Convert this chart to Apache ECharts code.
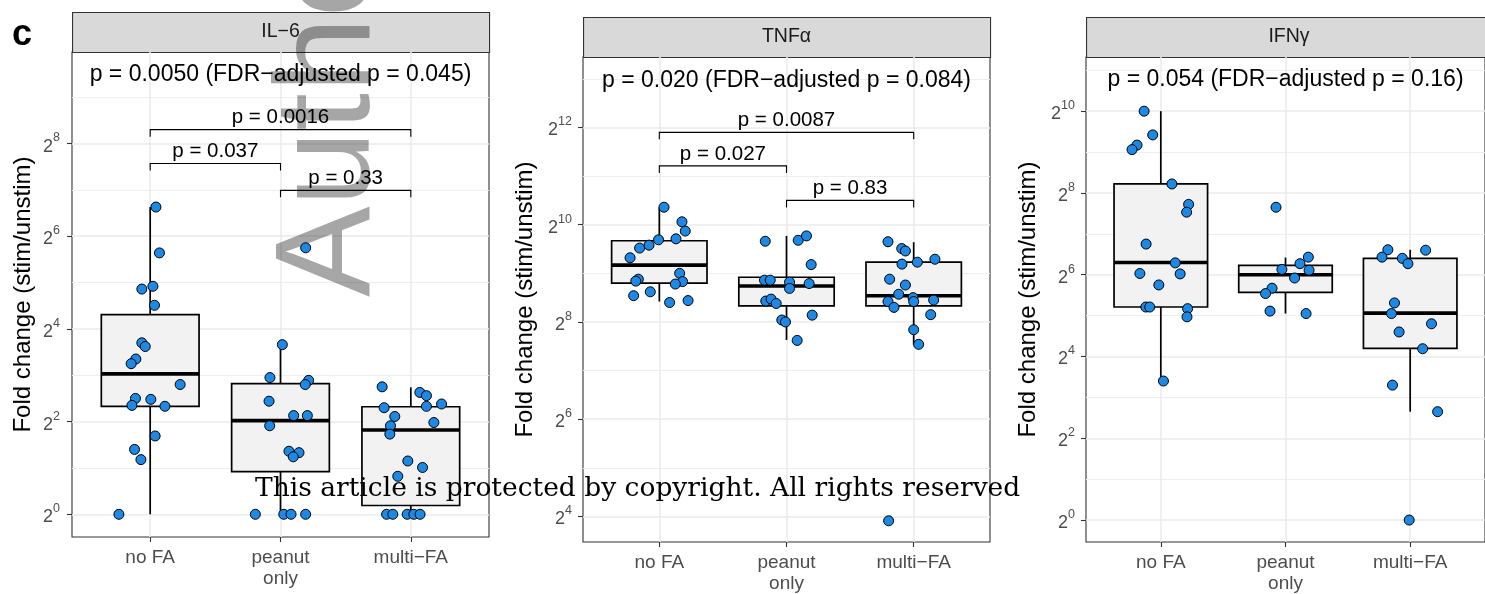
<!DOCTYPE html>
<html><head><meta charset="utf-8">
<script src="https://cdn.jsdelivr.net/npm/echarts@6/dist/echarts.min.js"></script>
<style>html,body{margin:0;padding:0;background:#fff}#c{width:1485px;height:594px}</style>
</head><body><div id="c"></div>
<script>
// ---------- data ----------
const categories = ['no FA', 'peanut\nonly', 'multi\u2212FA'];
const groupPositions = [1, 2, 3];
const panelTitles = ['IL\u22126', 'TNF\u03b1', 'IFN\u03b3'];
const overallP = [
  'p = 0.0050 (FDR\u2212adjusted p = 0.045)',
  'p = 0.020 (FDR\u2212adjusted p = 0.084)',
  'p = 0.054 (FDR\u2212adjusted p = 0.16)'
];
const overallPY = [9.49, 12.97, 10.76];
const yTicks = [[0, 2, 4, 6, 8], [4, 6, 8, 10, 12], [0, 2, 4, 6, 8, 10]];
const yMinor = [[1, 3, 5, 7, 9], [5, 7, 9, 11, 13], [1, 3, 5, 7, 9, 11]];
const yRange = [[-0.49, 9.975], [3.474, 13.45], [-0.537, 11.325]];

// points: [jittered group position, log2 fold change]
const il6Points = [
  [1.044,6.63],[1.071,5.64],[0.936,4.86],[1.021,4.92],[1.033,4.51],[0.936,3.70],[0.962,3.62],[0.890,3.35],[0.854,3.25],
  [1.230,2.80],[0.887,2.50],[1.005,2.48],[0.860,2.35],[1.113,2.33],[1.038,1.69],[0.880,1.40],[0.929,1.18],[0.760,0],
  [2.193,5.75],[2.014,3.66],[1.919,2.95],[2.216,2.89],[2.190,2.80],[1.912,2.44],[2.101,2.13],[2.206,2.13],[1.917,1.91],
  [2.065,1.36],[2.142,1.33],[2.098,1.24],[1.807,0],[2.025,0],[2.081,0],[2.193,0],
  [2.780,2.75],[3.069,2.63],[3.120,2.56],[3.236,2.38],[2.795,2.30],[3.120,2.33],[2.877,2.11],[2.844,1.91],[3.177,1.98],
  [2.839,1.73],[2.977,1.15],[3.090,1.01],[2.900,0.82],[2.814,0],[2.862,0],[2.972,0],[3.023,0],[3.071,0]
];
const tnfPoints = [
  [1.037,10.36],[1.178,10.06],[1.204,9.87],[0.994,9.69],[1.131,9.71],[0.919,9.58],[0.845,9.52],[0.770,9.32],[1.160,9.00],
  [0.835,8.88],[0.815,8.84],[1.183,8.83],[1.126,8.78],[0.798,8.54],[0.929,8.62],[1.081,8.40],[1.226,8.44],
  [1.833,9.66],[2.092,9.68],[2.157,9.77],[2.194,9.18],[1.827,8.86],[1.872,8.86],[2.024,8.82],[2.178,8.79],[2.024,8.69],
  [1.837,8.43],[1.879,8.47],[1.919,8.38],[2.202,8.14],[1.963,8.04],[1.992,8.00],[2.084,7.62],
  [2.798,9.65],[2.906,9.51],[2.935,9.46],[3.167,9.29],[3.029,9.23],[2.908,9.19],[2.811,8.88],[2.935,8.76],[2.882,8.57],
  [2.995,8.50],[2.798,8.42],[3.000,8.42],[3.157,8.45],[2.845,8.30],[3.134,8.15],[3.000,7.84],[3.039,7.54],[2.803,3.91]
];
const ifnPoints = [
  [0.866,10.0],[0.935,9.42],[0.809,9.17],[0.769,9.06],[1.089,8.22],[1.223,7.72],[1.207,7.53],[0.882,6.75],[1.116,6.29],
  [0.832,6.03],[1.155,6.02],[0.984,5.75],[0.880,5.21],[0.911,5.21],[1.215,5.17],[1.210,4.97],[1.021,3.40],
  [1.924,7.65],[2.183,6.43],[2.116,6.27],[1.971,6.13],[2.189,6.11],[2.073,5.92],[1.892,5.67],[1.840,5.54],[1.876,5.11],[2.165,5.05],
  [2.821,6.61],[3.124,6.60],[2.774,6.43],[2.937,6.40],[2.982,6.27],[2.874,5.31],[2.850,5.05],[3.171,4.80],[2.911,4.60],
  [3.100,4.19],[2.858,3.30],[3.220,2.65],[2.992,0]
];

// box stats: [group, lower whisker, Q1, median, Q3, upper whisker] (log2)
const il6Box = [[1,0,2.33,3.03,4.31,6.63],[2,0,0.92,2.02,2.82,3.66],[3,0,0.19,1.82,2.32,2.74]];
const tnfBox = [[1,8.42,8.80,9.17,9.67,10.36],[2,7.63,8.33,8.74,8.92,9.77],[3,7.53,8.33,8.54,9.23,9.64]];
const ifnBox = [[1,3.40,5.21,6.30,8.22,10.0],[2,5.05,5.57,6.00,6.23,6.42],[3,2.65,4.20,5.06,6.40,6.61]];

// pairwise brackets: [from group, to group, log2 height] + labels
const il6Brackets = [[1,3,8.30],[1,2,7.57],[2,3,6.99]];
const il6BracketLabels = ['p = 0.0016', 'p = 0.037', 'p = 0.33'];
const tnfBrackets = [[1,3,11.90],[1,2,11.21],[2,3,10.50]];
const tnfBracketLabels = ['p = 0.0087', 'p = 0.027', 'p = 0.83'];
const ifnBrackets = [];
const ifnBracketLabels = [];

// ---------- layout / style ----------
const FONT = '"Liberation Sans", Arial, Helvetica, sans-serif';
const layout = [
  {left: 72, right: 996, top: 52, bottom: 57, nameGap: 37, labelMargin: 12},
  {left: 583, right: 495, top: 57, bottom: 52, nameGap: 46, labelMargin: 11},
  {left: 1086, right: -7, top: 57, bottom: 51, nameGap: 46, labelMargin: 11}
];
const CW = 1485, CH = 594, STRIP = 40;
const points = [il6Points, tnfPoints, ifnPoints];
const boxes = [il6Box, tnfBox, ifnBox];
const brackets = [il6Brackets, tnfBrackets, ifnBrackets];
const bracketLabels = [il6BracketLabels, tnfBracketLabels, ifnBracketLabels];

function renderBox(params, api) {
  const g = api.value(0);
  const lo = api.coord([g, api.value(1)]), q1 = api.coord([g, api.value(2)]);
  const md = api.coord([g, api.value(3)]), q3 = api.coord([g, api.value(4)]);
  const hi = api.coord([g, api.value(5)]);
  const l = api.coord([g - 0.375, api.value(2)])[0], r = api.coord([g + 0.375, api.value(2)])[0];
  const ls = {stroke: '#000', lineWidth: 1.7};
  return {type: 'group', children: [
    {type: 'line', shape: {x1: hi[0], y1: hi[1], x2: q3[0], y2: q3[1]}, style: ls},
    {type: 'line', shape: {x1: q1[0], y1: q1[1], x2: lo[0], y2: lo[1]}, style: ls},
    {type: 'rect', shape: {x: l, y: q3[1], width: r - l, height: q1[1] - q3[1]}, style: {fill: '#F2F2F2', stroke: '#000', lineWidth: 1.7}},
    {type: 'line', shape: {x1: l, y1: md[1], x2: r, y2: md[1]}, style: {stroke: '#000', lineWidth: 3.6}}
  ]};
}
function makeBracketRenderer(labels) {
  return function (params, api) {
    const a = api.coord([api.value(0), api.value(2)]);
    const b = api.coord([api.value(1), api.value(2)]);
    const drop = 7;
    return {type: 'group', children: [
      {type: 'polyline', shape: {points: [[a[0], a[1] + drop], [a[0], a[1]], [b[0], b[1]], [b[0], b[1] + drop]]},
       style: {stroke: '#000', lineWidth: 1.1, fill: 'none'}},
      {type: 'text', style: {text: labels[params.dataIndex], x: (a[0] + b[0]) / 2, y: a[1] - 12, fill: '#000',
       fontSize: 20.5, fontFamily: FONT, align: 'center', verticalAlign: 'middle', textAlign: 'center', textVerticalAlign: 'middle'}}
    ]};
  };
}
function makeTitleRenderer(text) {
  return function (params, api) {
    const p = api.coord([api.value(0), api.value(1)]);
    return {type: 'text', style: {text: text, x: p[0], y: p[1], fill: '#000', fontSize: 23, fontFamily: FONT,
      align: 'center', verticalAlign: 'middle', textAlign: 'center', textVerticalAlign: 'middle'}};
  };
}

const grid = [], xAxis = [], yAxis = [], series = [], graphic = [];
layout.forEach((L, i) => {
  grid.push({left: L.left, right: L.right, top: L.top, bottom: L.bottom, show: true,
    backgroundColor: '#fff', borderColor: '#333333', borderWidth: 1.1});
  xAxis.push({type: 'value', gridIndex: i, min: 0.4, max: 3.6, position: 'bottom',
    axisLine: {show: false, onZero: false},
    axisTick: {show: true, customValues: groupPositions, length: 5, lineStyle: {color: '#333333', width: 1.1}},
    axisLabel: {customValues: groupPositions, formatter: v => categories[Math.round(v) - 1],
      color: '#4D4D4D', fontSize: 19, lineHeight: 21, margin: 10, fontFamily: FONT},
    splitLine: {show: true, lineStyle: {color: '#EBEBEB', width: 1.6}}
  });
  yAxis.push({type: 'value', gridIndex: i, min: yRange[i][0], max: yRange[i][1], position: 'left',
    axisLine: {show: false, onZero: false},
    axisTick: {show: true, customValues: yTicks[i], length: 5, lineStyle: {color: '#333333', width: 1.1}},
    axisLabel: {customValues: yTicks[i], margin: L.labelMargin, formatter: v => '{b|2}{s|' + v + '}',
      rich: {b: {fontSize: 18, color: '#4D4D4D', fontFamily: FONT, lineHeight: 24, verticalAlign: 'bottom'},
             s: {fontSize: 12.5, color: '#4D4D4D', fontFamily: FONT, lineHeight: 13, verticalAlign: 'top'}}},
    splitLine: {show: true, lineStyle: {color: '#EBEBEB', width: 1.6}},
    name: 'Fold change (stim/unstim)', nameLocation: 'middle', nameGap: L.nameGap, nameRotate: 90,
    nameTextStyle: {fontSize: 24, color: '#000', fontFamily: FONT}
  });
  yAxis.push({type: 'value', gridIndex: i, min: yRange[i][0], max: yRange[i][1], position: 'right',
    axisLine: {show: false, onZero: false},
    axisTick: {show: false, customValues: yMinor[i]},
    axisLabel: {show: false, customValues: yMinor[i]},
    splitLine: {show: true, lineStyle: {color: '#EEEEEE', width: 1}}
  });
  const yi = 2 * i;
  series.push({type: 'custom', xAxisIndex: i, yAxisIndex: yi, z: 3, data: boxes[i],
    encode: {x: 0, y: [1, 2, 3, 4, 5]}, renderItem: renderBox, silent: true});
  series.push({type: 'scatter', xAxisIndex: i, yAxisIndex: yi, z: 4, data: points[i], symbol: 'circle', symbolSize: 10,
    itemStyle: {color: '#1E88E5', borderColor: '#000', borderWidth: 1, opacity: 1}, silent: true});
  if (brackets[i].length) {
    series.push({type: 'custom', xAxisIndex: i, yAxisIndex: yi, z: 5, data: brackets[i],
      encode: {x: [0, 1], y: 2}, renderItem: makeBracketRenderer(bracketLabels[i]), silent: true});
  }
  series.push({type: 'custom', xAxisIndex: i, yAxisIndex: yi, z: 5, data: [[2, overallPY[i]]],
    encode: {x: 0, y: 1}, renderItem: makeTitleRenderer(overallP[i]), silent: true});

  // facet strip
  const gw = CW - L.left - L.right;
  graphic.push({type: 'rect', z: 0, left: L.left, top: L.top - STRIP,
    shape: {x: 0, y: 0, width: gw, height: STRIP},
    style: {fill: '#D9D9D9', stroke: '#333333', lineWidth: 1.1}});
  graphic.push({type: 'text', z: 0, x: L.left + gw / 2, y: L.top - STRIP / 2,
    style: {text: panelTitles[i], fill: '#1A1A1A', fontSize: 19.5, fontFamily: FONT,
      align: 'center', verticalAlign: 'middle', textAlign: 'center', textVerticalAlign: 'middle'}});
});

// watermark and page notes
graphic.push({type: 'text', z: 1, x: 331, y: 297, rotation: Math.PI / 2,
  style: {text: 'Author', fill: 'rgba(0,0,0,0.35)', fontSize: 136, fontFamily: FONT,
    align: 'left', verticalAlign: 'middle', textAlign: 'left', textVerticalAlign: 'middle'}});
graphic.push({type: 'text', z: 100, x: 12, y: 35,
  style: {text: 'c', fill: '#000', fontSize: 36, fontWeight: 'bold', fontFamily: FONT,
    align: 'left', verticalAlign: 'middle', textAlign: 'left', textVerticalAlign: 'middle'}});
graphic.push({type: 'text', z: 100, x: 255, y: 489.5,
  style: {text: 'This article is protected by copyright. All rights reserved', fill: '#000', fontSize: 26.5,
    fontFamily: '"DejaVu Serif", "Liberation Serif", serif',
    align: 'left', verticalAlign: 'middle', textAlign: 'left', textVerticalAlign: 'middle'}});

const chart = echarts.init(document.getElementById('c'), null, {renderer: 'canvas', width: CW, height: CH});
chart.setOption({animation: false, backgroundColor: '#fff', grid, xAxis, yAxis, series, graphic});
</script></body></html>
